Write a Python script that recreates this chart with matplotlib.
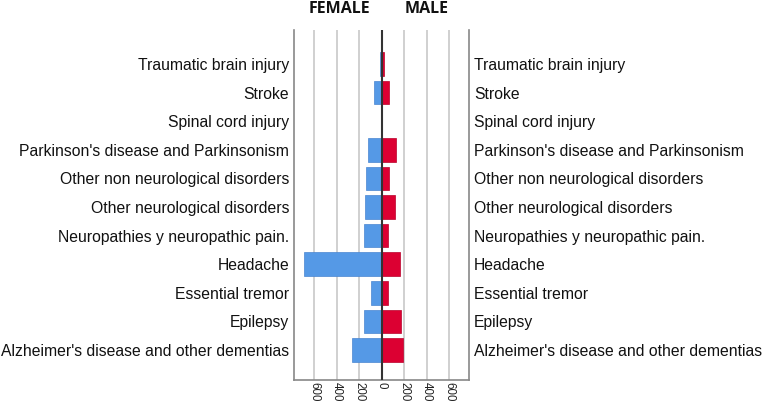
import matplotlib
matplotlib.use("Agg")
import matplotlib.pyplot as plt
import numpy as np

categories = [
    "Traumatic brain injury",
    "Stroke",
    "Spinal cord injury",
    "Parkinson's disease and Parkinsonism",
    "Other non neurological disorders",
    "Other neurological disorders",
    "Neuropathies y neuropathic pain.",
    "Headache",
    "Essential tremor",
    "Epilepsy",
    "Alzheimer's disease and other dementias",
]
female = [18, 68, 3, 119, 137, 148, 154, 688, 95, 154, 267]
male = [20, 65, 3, 124, 62, 115, 56, 163, 59, 175, 192]
xticks = [-600, -400, -200, 0, 200, 400, 600]
xticklabels = ["600", "400", "200", "0", "200", "400", "600"]

fig = plt.figure(figsize=(7.65, 4.05), dpi=100)
W, H = 765, 405
ax = fig.add_axes([294 / W, 1 - 380 / H, (469 - 294) / W, (380 - 30) / H])

y = np.arange(len(categories))
ax.barh(y, -np.array(female), height=0.83, color="#5599e6", edgecolor="#4a86d0", linewidth=0.5, zorder=3)
ax.barh(y, male, height=0.83, color="#dc0032", edgecolor="#b8002a", linewidth=0.5, zorder=3)

ax.set_xlim(-780, 778)
ax.set_ylim(len(categories) - 1 + 1.05, -1.19)

for xt in xticks:
    if xt != 0:
        ax.axvline(xt, color="#c8c8c8", linewidth=1.2, zorder=1)
ax.axvline(0, color="#333333", linewidth=1.5, zorder=4)

ax.set_xticks(xticks)
ax.set_xticklabels(xticklabels, rotation=270, fontsize=8.3, family="Liberation Sans", color="#222222")
ax.tick_params(axis="x", length=0, pad=1.5)

ax.set_yticks(y)
ax.set_yticklabels(categories, fontsize=11.3, family="Liberation Sans", color="#111111")
ax.tick_params(axis="y", length=0, pad=3.5, labelright=True, labelleft=True)

for s in ["left", "right", "bottom"]:
    ax.spines[s].set_color("#888888")
    ax.spines[s].set_linewidth(1.2)
ax.spines["top"].set_visible(False)

fig.text(339.5 / W, 1 - 9 / H, "FEMALE", ha="center", va="center", fontsize=11.5,
         fontweight="bold", family="Open Sans", color="#111111")
fig.text(427 / W, 1 - 9 / H, "MALE", ha="center", va="center", fontsize=11.5,
         fontweight="bold", family="Open Sans", color="#111111")

fig.savefig("out.png", dpi=100)
